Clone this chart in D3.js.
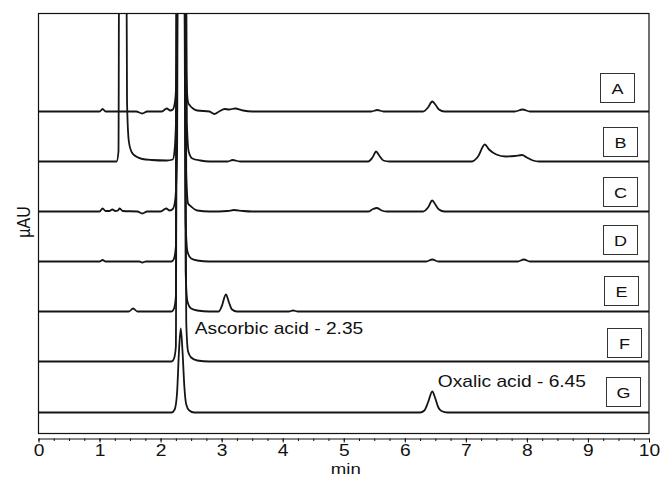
<!DOCTYPE html>
<html><head><meta charset="utf-8">
<script src="https://cdn.jsdelivr.net/npm/d3@7"></script>
<style>
html,body{margin:0;padding:0;background:#fff;}
text{font-family:"Liberation Sans",Arial,Helvetica,sans-serif;fill:#111;}
</style></head>
<body><svg id="c" width="661" height="477"></svg>
<script>
// ---- data (time in min, signal in arbitrary µAU above each trace's baseline) ----
const traceNames = ["A","B","C","D","E","F","G"];
const traceOffsets = [322, 272, 222, 172, 122, 72, 21];
const traceA = [[0,0],[1.0,0],[1.05,2.5],[1.1,0],[1.6,0],[1.7,-2],[1.78,0],[2.02,0],[2.1,3],[2.16,1],[2.2,2],[2.24,12],[2.27,60],[2.29,500],[2.39,500],[2.42,40],[2.45,9],[2.48,6],[2.53,3],[2.6,1],[2.8,0],[2.88,-2.5],[2.96,0],[3.05,2.5],[3.12,2],[3.22,3],[3.35,1],[3.5,0],[5.45,0],[5.55,1.5],[5.65,0],[6.3,0],[6.38,4],[6.45,10],[6.5,7],[6.56,2],[6.65,0],[7.8,0],[7.93,2],[8.05,0],[10,0]];
const traceB = [[0,0],[1.28,0],[1.31,10],[1.33,500],[1.42,500],[1.45,60],[1.48,20],[1.53,9],[1.6,5],[1.7,2.5],[1.85,1.5],[2.1,1],[2.2,2],[2.23,12],[2.26,60],[2.28,500],[2.4,500],[2.43,40],[2.46,10],[2.52,3],[2.65,1],[2.8,0],[3.1,0],[3.18,1.5],[3.3,0],[5.4,0],[5.47,4],[5.53,10],[5.58,6],[5.65,1],[5.75,0],[7.1,0],[7.2,5],[7.31,17],[7.38,12],[7.5,7],[7.65,5],[7.8,5.5],[7.92,6.5],[8.0,4],[8.1,1],[8.2,0],[10,0]];
const traceC = [[0,0],[1.0,0],[1.05,3],[1.1,0.5],[1.16,0.5],[1.21,2],[1.26,0.5],[1.3,1],[1.33,3],[1.38,0.5],[1.62,0],[1.7,-2],[1.78,0],[2.0,0],[2.09,3],[2.15,1],[2.2,2.5],[2.24,12],[2.27,60],[2.29,500],[2.39,500],[2.42,40],[2.45,8],[2.5,5],[2.6,1],[2.8,0],[3.1,0.5],[3.2,1.5],[3.35,0.5],[3.5,0],[5.4,0],[5.48,2.5],[5.54,3.5],[5.62,1],[5.7,0],[6.3,0],[6.38,4],[6.45,11],[6.5,7],[6.56,2],[6.65,0],[10,0]];
const traceD = [[0,0],[1.0,0],[1.05,1.5],[1.1,0],[1.65,0],[1.7,-1],[1.76,0],[2.18,0],[2.22,3],[2.25,15],[2.27,500],[2.38,500],[2.41,40],[2.44,10],[2.5,3],[2.6,1],[2.8,0],[6.35,0],[6.45,2],[6.55,0],[7.85,0],[7.95,2],[8.05,0],[10,0]];
const traceE = [[0,0],[1.48,0],[1.55,3],[1.62,0],[2.18,0],[2.22,3],[2.25,15],[2.27,500],[2.38,500],[2.41,40],[2.44,10],[2.5,3],[2.6,1],[2.8,0],[2.95,0],[3.0,5],[3.07,17],[3.12,9],[3.17,2],[3.25,0],[4.1,0],[4.17,1],[4.25,0],[10,0]];
const traceF = [[0,0],[2.18,0],[2.22,3],[2.25,15],[2.27,500],[2.39,500],[2.42,40],[2.45,10],[2.5,4],[2.6,1],[2.8,0],[10,0]];
const traceG = [[0,0],[2.18,0],[2.23,3],[2.27,20],[2.3,60],[2.33,84],[2.36,60],[2.39,25],[2.42,8],[2.47,2],[2.55,0],[6.25,0],[6.32,2],[6.38,10],[6.45,21],[6.5,14],[6.55,5],[6.6,1.5],[6.7,0],[10,0]];
const traces = [traceA, traceB, traceC, traceD, traceE, traceF, traceG];
const majorTicks = [0,1,2,3,4,5,6,7,8,9,10];
const minorTicks = d3.range(0, 10.001, 0.25);
const annotationTexts = ["Ascorbic acid - 2.35", "Oxalic acid - 6.45"];
const annotationT = [2.56, 6.54];     // min, left edge of label
const annotationV = [100, 46.5];      // µAU, label baseline
const xTitle = "min", yTitle = "µAU";

// ---- layout ----
const svg = d3.select("#c");
const L = 38.5, R = 649, T = 13.5, B = 433.5;
const x = d3.scaleLinear().domain([0,10]).range([L,R]);
const y = d3.scaleLinear().domain([0,420]).range([B,T]);
const SX = 1.2; // horizontal text stretch of the original

svg.append("defs").append("clipPath").attr("id","clip")
  .append("rect").attr("x",L).attr("y",T).attr("width",R-L).attr("height",B-T);

const line = d3.line().x(d=>x(d[0])).curve(d3.curveMonotoneX);
const g = svg.append("g").attr("clip-path","url(#clip)");
traces.forEach((tr,i)=>{
  const off = traceOffsets[i];
  g.append("path").datum(tr)
    .attr("d", line.y(d=>y(d[1]+off)))
    .attr("fill","none").attr("stroke","#151515").attr("stroke-width",1.8)
    .attr("stroke-linejoin","round");
});

// frame
svg.append("rect").attr("x",L).attr("y",T).attr("width",R-L).attr("height",B-T)
  .attr("fill","none").attr("stroke","#111").attr("stroke-width",1.2);

// x axis (separate line below frame)
const axY = 438.5;
const ax = svg.append("g").attr("transform",`translate(0,${axY})`);
ax.call(d3.axisBottom(x).tickValues(minorTicks).tickSize(2.5).tickFormat(""))
  .call(s=>s.select(".domain").remove());
ax.selectAll("line").attr("stroke","#111");
const ax2 = svg.append("g").attr("transform",`translate(0,${axY})`);
ax2.call(d3.axisBottom(x).tickValues(majorTicks).tickSize(4).tickSizeOuter(0).tickFormat(d3.format("d")))
  .call(s=>s.select(".domain").attr("stroke","#111").attr("stroke-width",1.2).attr("d",`M${L},0.5H${R}`));
ax2.selectAll("line").attr("stroke","#111");
ax2.selectAll("text").attr("y",6).attr("dy","0.71em")
  .attr("transform",`scale(${SX},1)`).style("font-size","16px")
  .attr("fill","#111").style("font-family","'Liberation Sans',Arial,sans-serif");

function stext(px,py,str,size,anchor){
  svg.append("text").attr("transform",`translate(${px},${py}) scale(${SX},1)`)
    .attr("text-anchor",anchor).style("font-size",size+"px").text(str);
}
stext((L+R)/2+2, 473.5, xTitle, 15.5, "middle");
// y title rotated; stretch applies along screen x
svg.append("text").attr("transform",`translate(30,222) scale(${SX},1) rotate(-90)`)
  .attr("text-anchor","middle").style("font-size","16px").text(yTitle);

// trace label boxes
const boxes = [[600,73],[603,127],[603,177],[603,225],[604,276],[607,328],[606,377]];
traceNames.forEach((n,i)=>{
  const [bx,by] = boxes[i];
  svg.append("rect").attr("x",bx+0.5).attr("y",by+0.5).attr("width",34).attr("height",29)
    .attr("fill","#fff").attr("stroke","#333").attr("stroke-width",1);
  stext(bx+17.5, by+20.5, n, 15, "middle");
});

// annotations
annotationTexts.forEach((s,i)=>{
  stext(x(annotationT[i]), y(annotationV[i]), s, 16, "start");
});
</script></body></html>
